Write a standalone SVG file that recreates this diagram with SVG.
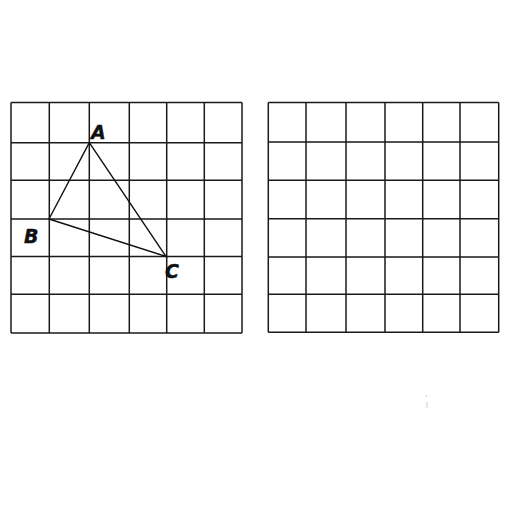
<svg xmlns="http://www.w3.org/2000/svg" width="512" height="512" viewBox="0 0 512 512">
<style>
.g{stroke:#1a1a1a;stroke-width:1.5;fill:none}
.t{stroke:#111;stroke-width:1.4;fill:none}
.l{font-family:"DejaVu Sans",sans-serif;font-weight:bold;font-style:italic;font-size:19px;fill:#111;stroke:#111;stroke-width:0.4}
</style>
<rect width="512" height="512" fill="#fff"/>
<g id="grid-left" class="g">
<path d="M11,102.5V333 M49.3,102.5V333 M89.3,102.5V333 M129.3,102.5V333 M166.7,102.5V333 M204.3,102.5V333 M242,102.5V333"/>
<path d="M11,102.5H242 M11,142.7H242 M11,180.3H242 M11,219H242 M11,256.5H242 M11,294.3H242 M11,333H242"/>
</g>
<g id="grid-right" class="g">
<path d="M268.3,102.5V332.3 M306,102.5V332.3 M346,102.5V332.3 M385,102.5V332.3 M422.7,102.5V332.3 M460,102.5V332.3 M498.7,102.5V332.3"/>
<path d="M268.3,102.5H498.7 M268.3,142H498.7 M268.3,180.3H498.7 M268.3,218.7H498.7 M268.3,257H498.7 M268.3,294.3H498.7 M268.3,332.3H498.7"/>
</g>
<g id="triangle" class="t">
<path d="M89.3,142.7L49,219L166,256.5Z"/>
</g>
<g id="labels">
<text class="l" x="91" y="139">A</text>
<text class="l" x="24" y="243">B</text>
<text class="l" x="165" y="278">C</text>
</g>
<g id="marks" stroke="#ccc" stroke-width="1">
<path d="M426.5,395v2 M427,402v6"/>
</g>
</svg>
